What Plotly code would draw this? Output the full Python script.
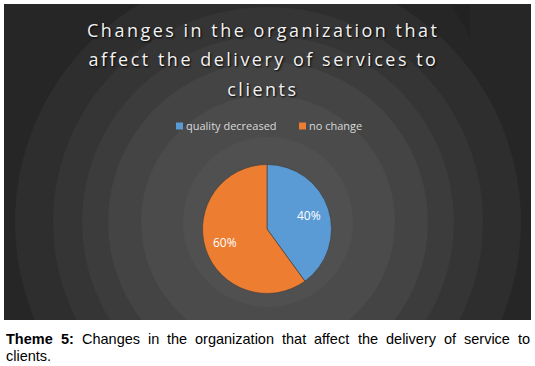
import math
import plotly.graph_objects as go

# ---- data ----
categories = ["quality decreased", "no change"]
values = [40, 60]
slice_colors = ["#5b9bd5", "#ed7d31"]

title_lines = ["Changes in the organization that",
               "affect the delivery of services to",
               "clients"]
caption_bold = "Theme 5:"
caption_line1 = "Changes in the organization that affect the delivery of service to"
caption_line2 = "clients."

W, H = 535, 366
def px(x): return x / W
def py(y): return 1 - y / H

# pie geometry (pixels)
PCX, PCY, PR = 267, 229, 64.5

fig = go.Figure()
fig.add_trace(go.Pie(
    labels=categories, values=values, sort=False, direction="clockwise",
    rotation=0,
    marker=dict(colors=slice_colors, line=dict(color="#3a3a3a", width=0.6)),
    textinfo="none", showlegend=False,
    domain=dict(x=[px(PCX - PR), px(PCX + PR)], y=[py(PCY + PR), py(PCY - PR)]),
    hoverinfo="label+percent",
))

shapes = []
annotations = []
# panel background
shapes.append(dict(type="rect", xref="paper", yref="paper",
                   x0=px(4), x1=px(531), y0=py(320), y1=py(4),
                   fillcolor="#262626", line=dict(width=0), layer="below"))
# concentric rings (decorative background)
cx, cy = 268, 222
rings = [(253, "#2e2e2e"), (215, "#353535"), (186, "#3c3c3c"),
         (160, "#444444"), (127, "#4b4b4b"), (85, "#505050")]
for r, c in rings:
    shapes.append(dict(type="circle", xref="paper", yref="paper",
                       x0=px(cx - r), x1=px(cx + r), y0=py(cy + r), y1=py(cy - r),
                       fillcolor=c, line=dict(width=0), layer="below"))
# small artifact in top-right corner of the panel
shapes.append(dict(type="path", xref="paper", yref="paper",
                   path=f"M {px(452)} {py(5)} L {px(470)} {py(5)} L {px(470)} {py(37)} Z",
                   fillcolor="#222222", line=dict(width=0), layer="below"))
# white masks outside the panel
for (x0, x1, y0, y1) in [(0, 535, 0, 4), (0, 535, 320, 366), (0, 4, 0, 366), (531, 535, 0, 366)]:
    shapes.append(dict(type="rect", xref="paper", yref="paper",
                       x0=px(x0), x1=px(x1), y0=py(y1), y1=py(y0),
                       fillcolor="#ffffff", line=dict(width=0), layer="below"))

# title (one annotation per line, for the wide line spacing)
for i, line in enumerate(title_lines):
    annotations.append(dict(text=line, x=px(263), y=py(30 + 29.3 * i), xref="paper", yref="paper",
                            xanchor="center", yanchor="middle", showarrow=False,
                            font=dict(family="Open Sans", size=18, color="#f2f2f2",
                                      shadow="1px 1px 2px #000000")))

# legend (manual, built from the series names / colours)
leg_x = [176, 299]
for name, col, lx in zip(categories, slice_colors, leg_x):
    shapes.append(dict(type="rect", xref="paper", yref="paper",
                       x0=px(lx), x1=px(lx + 7), y0=py(129.5), y1=py(122.5),
                       fillcolor=col, line=dict(width=0), layer="above"))
    annotations.append(dict(text=name, x=px(lx + 8), y=py(126), xref="paper", yref="paper",
                            xanchor="left", yanchor="middle", showarrow=False,
                            font=dict(family="Open Sans", size=11, color="#d9d9d9")))

# percentage labels at the middle angle of each slice
total = sum(values)
start = 0.0
for v in values:
    mid = (start + v / 2) / total * 2 * math.pi
    start += v
    lx = PCX + 0.69 * PR * math.sin(mid)
    ly = PCY - 0.69 * PR * math.cos(mid)
    annotations.append(dict(text=f"{round(100 * v / total)}%", x=px(lx), y=py(ly),
                            xref="paper", yref="paper", xanchor="center", yanchor="middle",
                            showarrow=False,
                            font=dict(family="Open Sans", size=12, color="#ffffff")))

# caption: first line justified (word widths from Arial metrics, per 1000 em)
ARIAL = {' ': 278, 'a': 556, 'b': 556, 'c': 500, 'd': 556, 'e': 556, 'f': 278, 'g': 556,
         'h': 556, 'i': 222, 'l': 222, 'm': 833, 'n': 556, 'o': 556, 'r': 333, 's': 500,
         't': 278, 'v': 500, 'y': 500, 'z': 500, 'C': 722, 'T': 611, ':': 278, '5': 556}
ARIAL_B = {'T': 611, 'h': 611, 'e': 556, 'm': 889, '5': 556, ':': 333}
FS = 14.5
def wwidth(w, bold):
    tab = ARIAL_B if bold else ARIAL
    return sum(tab.get(ch, 556) for ch in w) / 1000 * FS

words1 = [(w, True) for w in caption_bold.split()] + [(w, False) for w in caption_line1.split()]
left, right = 6, 530
widths = [wwidth(w, b) for w, b in words1]
gap = (right - left - sum(widths)) / (len(words1) - 1)
xcur = left
for (w, bold), ww in zip(words1, widths):
    annotations.append(dict(text=f"<b>{w}</b>" if bold else w, x=px(xcur - 2), y=py(339),
                            xref="paper", yref="paper", xanchor="left", yanchor="middle",
                            showarrow=False,
                            font=dict(family="Liberation Sans", size=FS, color="#000000")))
    xcur += ww + gap
annotations.append(dict(text=caption_line2, x=px(4), y=py(356), xref="paper", yref="paper",
                        xanchor="left", yanchor="middle", showarrow=False,
                        font=dict(family="Liberation Sans", size=FS, color="#000000")))

fig.update_layout(
    width=W, height=H, margin=dict(l=0, r=0, t=0, b=0),
    paper_bgcolor="#ffffff", plot_bgcolor="#ffffff",
    shapes=shapes, annotations=annotations, showlegend=False,
)

post = """
document.body.style.margin = '0';
var g = document.querySelectorAll('g.annotation');
g.forEach(function (el) {
  var idx = parseInt(el.getAttribute('data-index'));
  if (idx < 3) {
    var t = el.querySelector('.annotation-text');
    if (t) { t.style.letterSpacing = '2.5px'; }
  }
});
"""
fig.write_html("out.html", post_script=post, config={"displayModeBar": False})
